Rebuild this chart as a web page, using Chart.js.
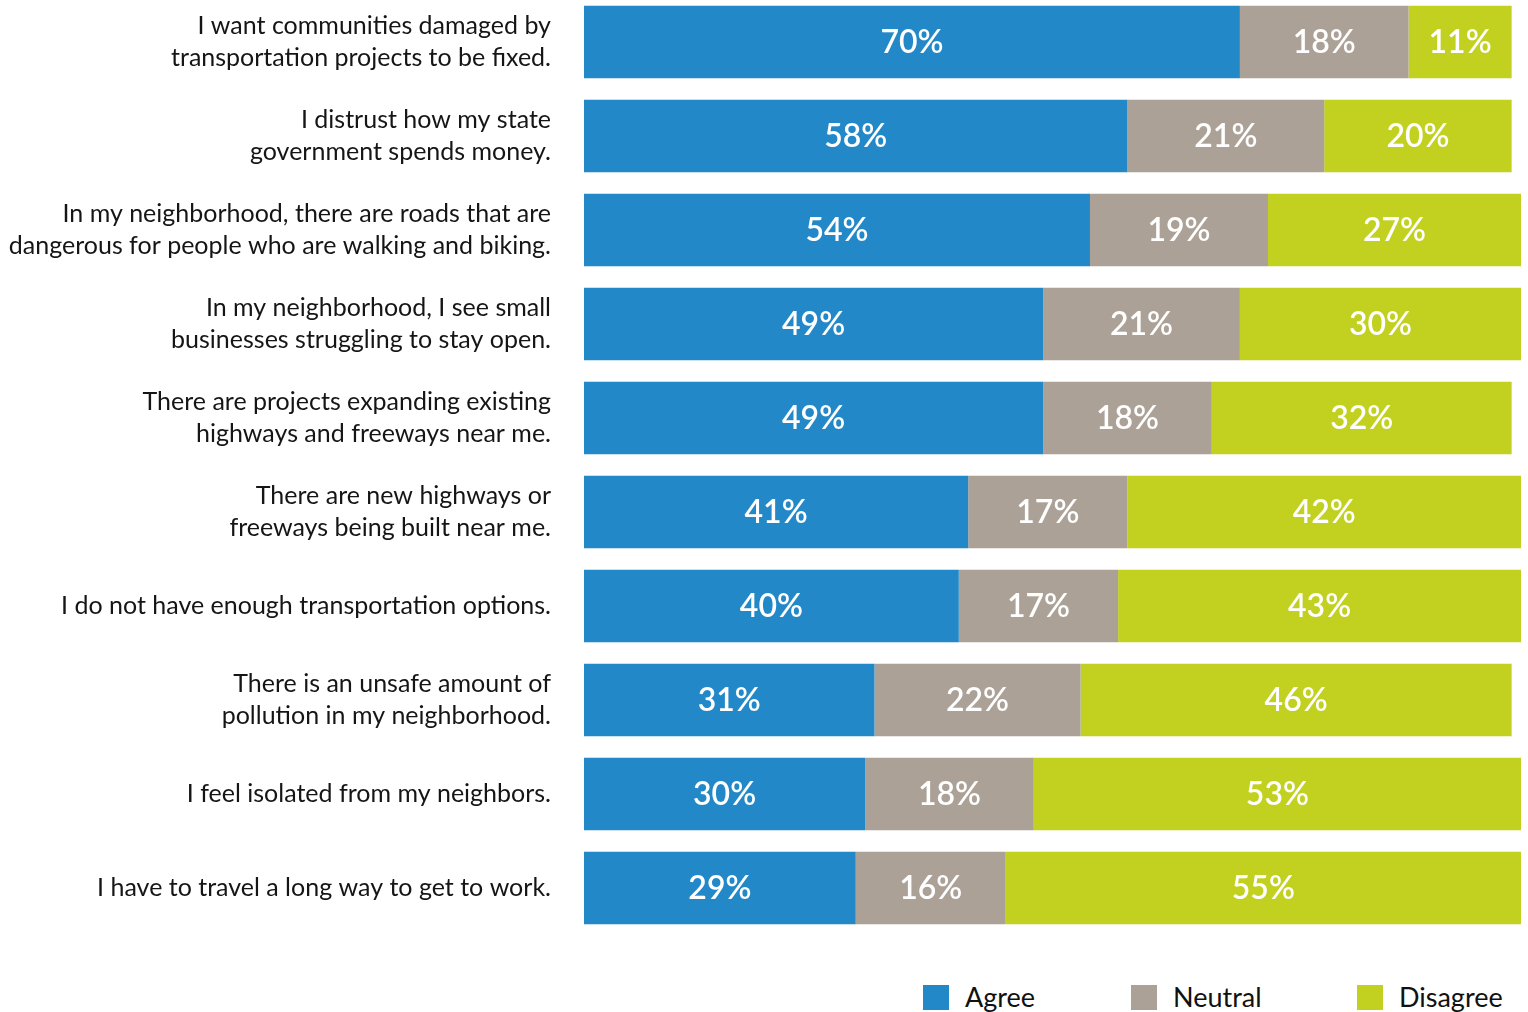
<!DOCTYPE html>
<html>
<head>
<meta charset="utf-8">
<script src="https://cdn.jsdelivr.net/npm/chart.js@4/dist/chart.umd.min.js"></script>
<style>
  html, body { margin: 0; padding: 0; background: #fff; width: 1528px; height: 1012px; overflow: hidden; }
  #wrap { position: absolute; left: 0; top: -5px; width: 1528px; height: 940px; }
  #legend { position: absolute; top: 983px; left: 923px; font-family: Lato, sans-serif; font-size: 27px; color: #111; }
  .item { position: absolute; top: 0; white-space: nowrap; line-height: 28px; }
  .sw { position: absolute; top: 2px; left: 0; width: 26px; height: 25px; }
  .lbl { position: absolute; left: 42px; top: 0; }
</style>
</head>
<body>
<div id="wrap"><canvas id="c" width="1528" height="940"></canvas></div>
<div id="legend"></div>
<script>
const statements = [
  ["I want communities damaged by", "transportation projects to be fixed."],
  ["I distrust how my state", "government spends money."],
  ["In my neighborhood, there are roads that are", "dangerous for people who are walking and biking."],
  ["In my neighborhood, I see small", "businesses struggling to stay open."],
  ["There are projects expanding existing", "highways and freeways near me."],
  ["There are new highways or", "freeways being built near me."],
  "I do not have enough transportation options.",
  ["There is an unsafe amount of", "pollution in my neighborhood."],
  "I feel isolated from my neighbors.",
  "I have to travel a long way to get to work."
];
const agree    = [70, 58, 54, 49, 49, 41, 40, 31, 30, 29];
const neutral  = [18, 21, 19, 21, 18, 17, 17, 22, 18, 16];
const disagree = [11, 20, 27, 30, 32, 42, 43, 46, 53, 55];
const seriesNames = ["Agree", "Neutral", "Disagree"];
const seriesColors = ["#2288C8", "#ABA197", "#C2D020"];

// white percentage labels centred in the visible part of each segment
const segmentLabels = {
  id: 'segmentLabels',
  afterDatasetsDraw(chart) {
    const ctx = chart.ctx;
    const area = chart.chartArea;
    ctx.save();
    ctx.fillStyle = '#ffffff';
    ctx.font = '600 32px Lato, sans-serif';
    ctx.textAlign = 'center';
    ctx.textBaseline = 'middle';
    chart.data.datasets.forEach((ds, di) => {
      const meta = chart.getDatasetMeta(di);
      meta.data.forEach((bar, i) => {
        const left = Math.max(Math.min(bar.base, bar.x), area.left);
        const right = Math.min(Math.max(bar.base, bar.x), area.right);
        ctx.fillText(ds.data[i] + '%', (left + right) / 2, bar.y + 1);
      });
    });
    ctx.restore();
  }
};

new Chart(document.getElementById('c'), {
  type: 'bar',
  data: {
    labels: statements,
    datasets: [agree, neutral, disagree].map((vals, k) => ({
      label: seriesNames[k],
      data: vals,
      backgroundColor: seriesColors[k],
      borderWidth: 0,
      categoryPercentage: 1,
      barPercentage: 0.77
    }))
  },
  options: {
    indexAxis: 'y',
    responsive: false,
    animation: false,
    layout: { padding: { left: 0, right: 7, top: 0, bottom: 0 } },
    plugins: { legend: { display: false }, tooltip: { enabled: false } },
    scales: {
      x: { stacked: true, min: 0, max: 100, display: false },
      y: {
        stacked: true,
        grid: { display: false },
        border: { display: false },
        afterFit(scale) {
          scale.width = 584;
          scale.paddingTop = 0;
          scale.paddingBottom = 0;
        },
        ticks: {
          padding: 25,
          color: '#151515',
          font: { family: 'Lato, sans-serif', size: 25, lineHeight: 1.28 }
        }
      }
    }
  },
  plugins: [segmentLabels]
});

// legend row
const legend = document.getElementById('legend');
const offsets = [0, 208, 434];
seriesNames.forEach((name, k) => {
  const it = document.createElement('div');
  it.className = 'item';
  it.style.left = offsets[k] + 'px';
  it.innerHTML = '<span class="sw" style="background:' + seriesColors[k] + '"></span><span class="lbl">' + name + '</span>';
  legend.appendChild(it);
});
</script>
</body>
</html>
